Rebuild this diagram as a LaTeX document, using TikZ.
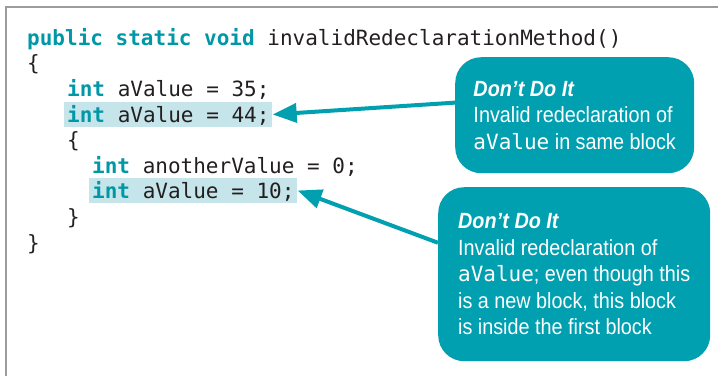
\documentclass[tikz,border=0pt]{standalone}
\usepackage{fontspec}
\setmonofont{DejaVu Sans Mono}
\setsansfont{Liberation Sans}[FakeStretch=0.9]
\usetikzlibrary{arrows.meta}
\definecolor{tealbox}{RGB}{0,160,176}
\definecolor{keyword}{RGB}{0,151,167}
\definecolor{hilite}{RGB}{198,229,234}
\definecolor{framegray}{RGB}{155,155,160}
\definecolor{codeink}{RGB}{35,31,32}
\newcommand{\kw}[1]{\textcolor{keyword}{\bfseries #1}}
\newcommand{\calcode}[1]{{\ttfamily\fontsize{21}{27}\selectfont #1}}
\tikzset{
  codeline/.style={anchor=base west, inner xsep=3pt, inner ysep=3pt,
    text height=17pt, text depth=2pt, text=codeink,
    font=\ttfamily\fontsize{21}{25}\selectfont},
  hilite line/.style={codeline, fill=hilite},
  callout/.style={anchor=north west, fill=tealbox, text=white,
    rounded corners=26pt, align=left, inner sep=0pt,
    font=\sffamily\fontsize{22}{26.5}\selectfont},
  pointer/.style={draw=tealbox, line width=4pt, -{Triangle[length=24pt,width=19pt]}}
}
\begin{document}
\begin{tikzpicture}[x=1pt, y=-1pt]
\useasboundingbox (0,0) rectangle (718,376);
% frame
\draw[framegray, line width=2.5pt] (6,376) -- (6,7) -- (718,7);
% code
\node[codeline] (head) at (24,45) {\kw{public static void} invalidRedeclarationMethod()};
\node[codeline] (open1) at (24,70) {\{};
\node[codeline] (line35) at (64,96) {\kw{int} aValue = 35;};
\node[hilite line] (line44) at (64,122) {\kw{int} aValue = 44;};
\node[codeline] (open2) at (64,147) {\{};
\node[codeline] (lineother) at (89,173) {\kw{int} anotherValue = 0;};
\node[hilite line] (line10) at (89,198) {\kw{int} aValue = 10;};
\node[codeline] (close2) at (64,224) {\}};
\node[codeline] (close1) at (24,250) {\}};
% callouts
\node[callout, minimum width=239pt, minimum height=116pt] (same) at (455,57)
  {\textbf{\textit{Don’t Do It}}\\Invalid redeclaration of\\\calcode{aValue} in same block};
\node[callout, minimum width=272pt, minimum height=174pt] (inner) at (438,187)
  {\textbf{\textit{Don’t Do It}}\\Invalid redeclaration of\\\calcode{aValue}; even though this\\is a new block, this block\\is inside the first block};
\draw[pointer] (same.174) -- (line44.east);
\draw[pointer] (inner.167) -- (line10.east);
\end{tikzpicture}
\end{document}
